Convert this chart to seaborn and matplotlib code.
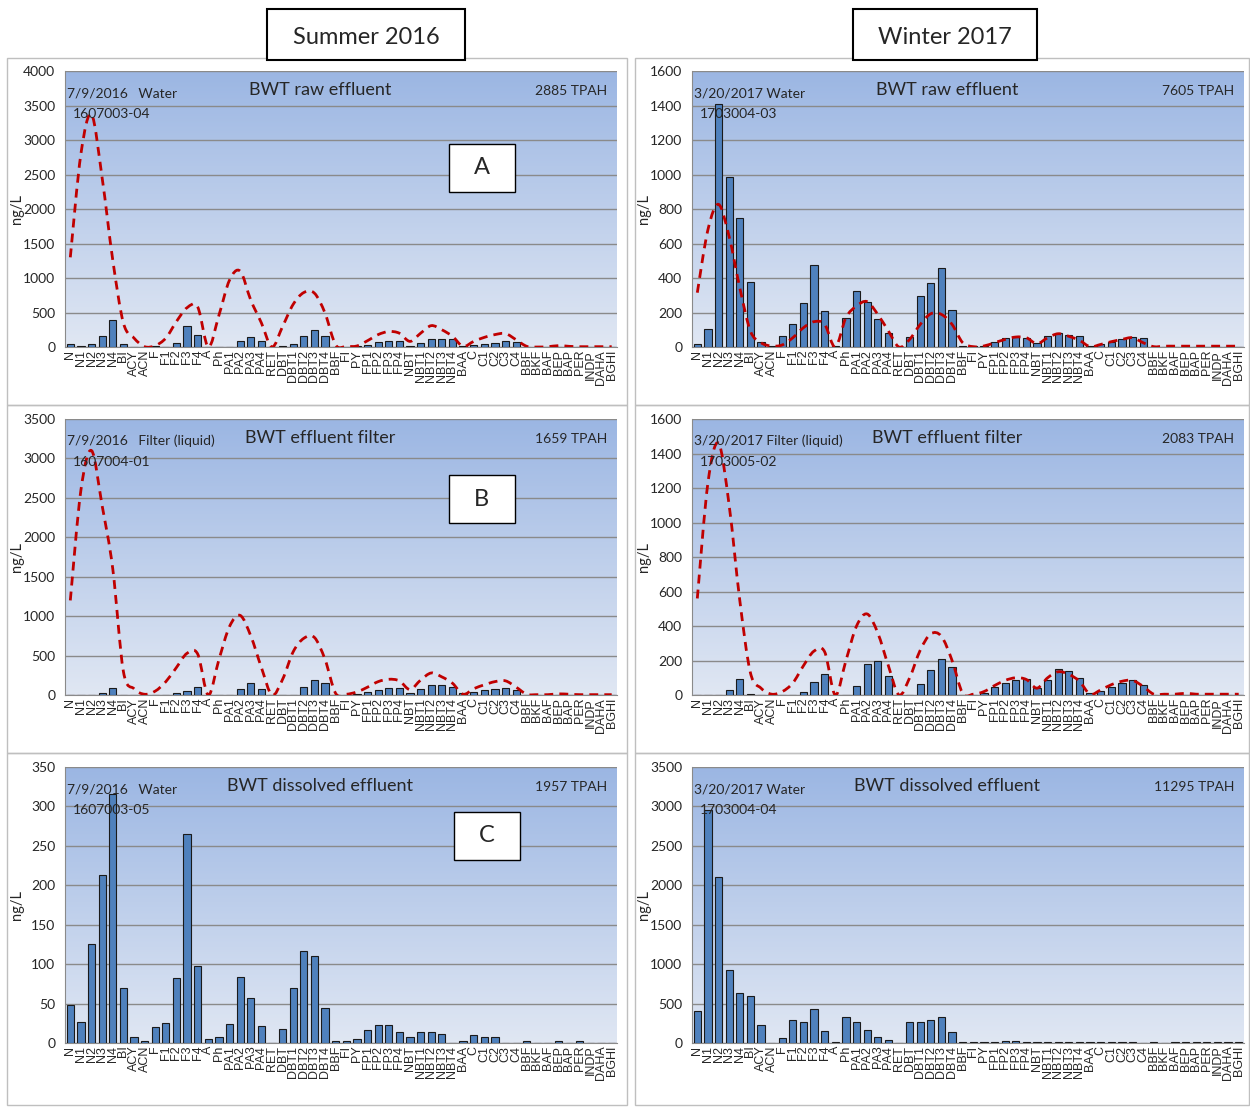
import numpy as np
import matplotlib
matplotlib.use("Agg")
import matplotlib.pyplot as plt
from matplotlib.path import Path
from matplotlib.patches import PathPatch, Rectangle
from matplotlib.colors import LinearSegmentedColormap
import seaborn as sns

sns.set_style("white")
plt.rcParams['font.family'] = ['Lato', 'DejaVu Sans']

# compound labels (BBF shows up twice in the original sheet)
cats = ["N", "N1", "N2", "N3", "N4", "BI", "ACY", "ACN", "F", "F1", "F2", "F3", "F4",
        "A", "Ph", "PA1", "PA2", "PA3", "PA4", "RET", "DBT", "DBT1", "DBT2", "DBT3", "DBT4",
        "BBF", "FI", "PY", "FP1", "FP2", "FP3", "FP4", "NBT", "NBT1", "NBT2", "NBT3", "NBT4",
        "BAA", "C", "C1", "C2", "C3", "C4", "BBF", "BKF", "BAF", "BEP", "BAP", "PER",
        "INDP", "DAHA", "BGHI"]

# summer 2016, raw effluent
sum_raw_bar = [50, 10, 45, 155, 395, 40, 5, 5, 10, 5, 58, 310, 180,
               5, 5, 5, 92, 140, 82, 5, 10, 45, 165, 240, 165,
               5, 5, 10, 35, 68, 92, 82, 20, 58, 120, 120, 120,
               10, 35, 45, 58, 82, 68, 3, 2, 2, 3, 2, 2, 2, 1, 2]
sum_raw_fit = [1300, 2800, 3370, 2450, 1260, 350, 130, 5, 20, 130, 370, 570, 580,
               0, 460, 970, 1100, 680, 350, 0, 300, 620, 790, 780, 490,
               30, 10, 15, 92, 180, 225, 200, 82, 200, 310, 250, 155,
               10, 82, 140, 180, 195, 105, 10, 0, 5, 20, 10, 5, 5, 5, 5]

# summer 2016, effluent filter
sum_filt_bar = [2, 2, 3, 25, 85, 5, 2, 2, 2, 3, 20, 55, 100,
                2, 2, 3, 80, 150, 80, 2, 3, 5, 100, 190, 150,
                3, 3, 10, 40, 70, 90, 90, 30, 80, 130, 130, 100,
                20, 40, 60, 75, 90, 70, 2, 2, 2, 2, 2, 2, 2, 2, 2]
sum_filt_fit = [1200, 2600, 3100, 2400, 1600, 300, 80, 10, 50, 170, 350, 530, 520,
                0, 450, 870, 1010, 750, 350, 0, 200, 550, 720, 730, 450,
                20, 10, 40, 100, 170, 200, 180, 70, 190, 280, 230, 150,
                10, 80, 130, 170, 180, 100, 10, 5, 5, 15, 10, 5, 5, 5, 5]

# summer 2016, dissolved effluent
sum_diss_bar = [48, 27, 125, 213, 316, 70, 7, 3, 20, 25, 83, 265, 97,
                5, 8, 24, 84, 57, 22, 0, 18, 70, 116, 110, 44,
                3, 2, 5, 17, 23, 23, 14, 8, 14, 14, 11, 0,
                2, 10, 8, 8, 0, 0, 2, 0, 0, 2, 0, 2, 0, 0, 0]

# winter 2017, raw effluent
win_raw_bar = [15, 102, 1406, 983, 748, 375, 31, 6, 62, 131, 253, 475, 207,
               5, 168, 325, 261, 164, 81, 3, 58, 298, 369, 456, 212,
               5, 5, 5, 31, 50, 58, 54, 25, 62, 81, 70, 62,
               5, 19, 29, 48, 58, 50, 3, 3, 3, 3, 3, 3, 3, 3, 3]
win_raw_fit = [315, 680, 827, 640, 344, 93, 25, 6, 12, 54, 112, 147, 131,
               0, 170, 238, 263, 189, 93, 0, 44, 131, 193, 189, 131,
               25, 2, 6, 25, 44, 58, 54, 19, 54, 77, 62, 39,
               2, 15, 31, 44, 54, 25, 2, 5, 5, 5, 5, 5, 5, 5, 5]

# winter 2017, effluent filter
win_filt_bar = [2, 2, 3, 30, 95, 5, 2, 2, 2, 3, 15, 75, 120,
                2, 3, 50, 180, 200, 110, 2, 3, 65, 145, 210, 160,
                3, 3, 10, 45, 70, 90, 95, 40, 90, 150, 140, 100,
                10, 25, 45, 70, 85, 60, 2, 2, 2, 2, 2, 2, 2, 2, 2]
win_filt_fit = [560, 1230, 1460, 1100, 550, 130, 40, 5, 20, 70, 170, 255, 250,
                0, 200, 400, 470, 360, 170, 0, 100, 260, 355, 340, 200,
                10, 5, 20, 55, 85, 100, 90, 40, 100, 135, 120, 80,
                5, 30, 60, 80, 85, 50, 5, 5, 5, 10, 5, 5, 5, 5, 5]

# winter 2017, dissolved effluent
win_diss_bar = [410, 2950, 2100, 920, 630, 600, 230, 0, 60, 290, 260, 430, 150,
                10, 330, 260, 160, 70, 40, 0, 270, 270, 290, 330, 140,
                10, 10, 10, 15, 20, 20, 15, 15, 15, 10, 10, 10,
                10, 10, 10, 10, 10, 0, 10, 5, 10, 10, 10, 10, 10, 10, 10]

bg_cmap = LinearSegmentedColormap.from_list("bg", ["#e0e7f3", "#9bb6e3"])
pos = np.arange(len(cats))


def smooth_path(xs, ys):
    # excel style smoothed line -> catmull-rom as cubic bezier
    n = len(xs)
    verts = [(xs[0], ys[0])]
    codes = [Path.MOVETO]
    for i in range(n - 1):
        i0, i3 = max(i - 1, 0), min(i + 2, n - 1)
        x0, y0 = xs[i0], ys[i0]
        x1, y1 = xs[i], ys[i]
        x2, y2 = xs[i + 1], ys[i + 1]
        x3, y3 = xs[i3], ys[i3]
        verts += [(x1 + (x2 - x0) / 6, y1 + (y2 - y0) / 6),
                  (x2 - (x3 - x1) / 6, y2 - (y3 - y1) / 6),
                  (x2, y2)]
        codes += [Path.CURVE4] * 3
    return Path(verts, codes)


def panel(ax, bars, fit, ymax, step, date, sample, title, tpah, letter=None, lxy=None):
    grad = np.linspace(0, 1, 256).reshape(-1, 1)
    ax.imshow(grad, extent=[0, 1, 0, 1], transform=ax.transAxes, aspect="auto",
              cmap=bg_cmap, origin="lower", zorder=0)
    sns.barplot(x=pos, y=bars, ax=ax, color="#4f81bd", saturation=1,
                edgecolor="#1a1a1a", linewidth=0.8, width=0.68, zorder=3)
    if fit is not None:
        ax.add_patch(PathPatch(smooth_path(pos, fit), fill=False, edgecolor="#c00000",
                               lw=2, linestyle=(0, (3.2, 2.2)), zorder=4))
    ax.set_xlim(-0.5, len(cats) - 0.5)
    ax.set_ylim(0, ymax)
    ax.set_yticks(np.arange(0, ymax + 1, step))
    ax.yaxis.grid(True, color="#8a8a8a", lw=1)
    ax.set_axisbelow(True)
    ax.set_xticks(pos)
    ax.set_xticklabels(cats, rotation=90, fontsize=9, family="Liberation Sans")
    ax.set_xticks(np.arange(-0.5, len(cats), 1), minor=True)
    ax.tick_params(axis="x", which="major", length=0, pad=2)
    ax.tick_params(axis="x", which="minor", length=4, color="#8a8a8a")
    ax.tick_params(axis="y", labelsize=10, length=4, color="#8a8a8a", pad=3)
    for s in ["top", "right"]:
        ax.spines[s].set_visible(False)
    for s in ["left", "bottom"]:
        ax.spines[s].set_color("#8a8a8a")
    ax.set_xlabel("")
    ax.set_ylabel("ng/L", fontsize=10.5)
    ax.yaxis.set_label_coords(-0.075, 0.5)

    ax.text(0.004, 0.92, date, transform=ax.transAxes, fontsize=10, va="center", ha="left", zorder=5)
    ax.text(0.0145, 0.844, sample, transform=ax.transAxes, fontsize=10, va="center", ha="left", zorder=5)
    ax.text(0.462, 0.931, title, transform=ax.transAxes, fontsize=13, va="center", ha="center", zorder=5)
    ax.text(0.982, 0.928, tpah, transform=ax.transAxes, fontsize=10, va="center", ha="right", zorder=5)
    if letter:
        bx, by = lxy
        ax.add_patch(Rectangle((bx - 0.06, by - 0.087), 0.12, 0.174, transform=ax.transAxes,
                               facecolor="white", edgecolor="black", lw=1, zorder=6))
        ax.text(bx, by, letter, transform=ax.transAxes, fontsize=17, ha="center",
                va="center", zorder=7)


fig = plt.figure(figsize=(12.5, 11.08), dpi=100)

# panel frames
for fx, fw in [(0.0056, 0.496), (0.508, 0.491)]:
    for fy, fh in [(0.6345, 0.3132), (0.3204, 0.3141), (0.0027, 0.3177)]:
        fig.add_artist(Rectangle((fx, fy), fw, fh, transform=fig.transFigure,
                                 fill=False, edgecolor="#bfbfbf", lw=1))

axw = 0.4416
axh = 0.2491
lefts = [0.052, 0.5536]
bottoms = [0.6868, 0.3727, 0.0587]

ax = fig.add_axes([lefts[0], bottoms[0], axw, axh])
panel(ax, sum_raw_bar, sum_raw_fit, 4000, 500, "7/9/2016   Water", "1607003-04",
      "BWT raw effluent", "2885 TPAH", "A", (0.755, 0.649))
ax = fig.add_axes([lefts[0], bottoms[1], axw, axh])
panel(ax, sum_filt_bar, sum_filt_fit, 3500, 500, "7/9/2016   Filter (liquid)", "1607004-01",
      "BWT effluent filter", "1659 TPAH", "B", (0.755, 0.71))
ax = fig.add_axes([lefts[0], bottoms[2], axw, axh])
panel(ax, sum_diss_bar, None, 350, 50, "7/9/2016   Water", "1607003-05",
      "BWT dissolved effluent", "1957 TPAH", "C", (0.764, 0.75))

ax = fig.add_axes([lefts[1], bottoms[0], axw, axh])
panel(ax, win_raw_bar, win_raw_fit, 1600, 200, "3/20/2017 Water", "1703004-03",
      "BWT raw effluent", "7605 TPAH")
ax = fig.add_axes([lefts[1], bottoms[1], axw, axh])
panel(ax, win_filt_bar, win_filt_fit, 1600, 200, "3/20/2017 Filter (liquid)", "1703005-02",
      "BWT effluent filter", "2083 TPAH")
ax = fig.add_axes([lefts[1], bottoms[2], axw, axh])
panel(ax, win_diss_bar, None, 3500, 500, "3/20/2017 Water", "1703004-04",
      "BWT dissolved effluent", "11295 TPAH")

# season headers
for x0, x1, label in [(267, 465, "Summer 2016"), (853, 1037, "Winter 2017")]:
    fig.add_artist(Rectangle((x0 / 1250, 1 - 60 / 1108), (x1 - x0) / 1250, 51 / 1108,
                             transform=fig.transFigure, facecolor="white",
                             edgecolor="black", lw=1.5, zorder=5))
    fig.text((x0 + x1) / 2 / 1250, 1 - 37 / 1108, label, fontsize=17,
             ha="center", va="center", zorder=6)

fig.savefig("out.png", dpi=100)
